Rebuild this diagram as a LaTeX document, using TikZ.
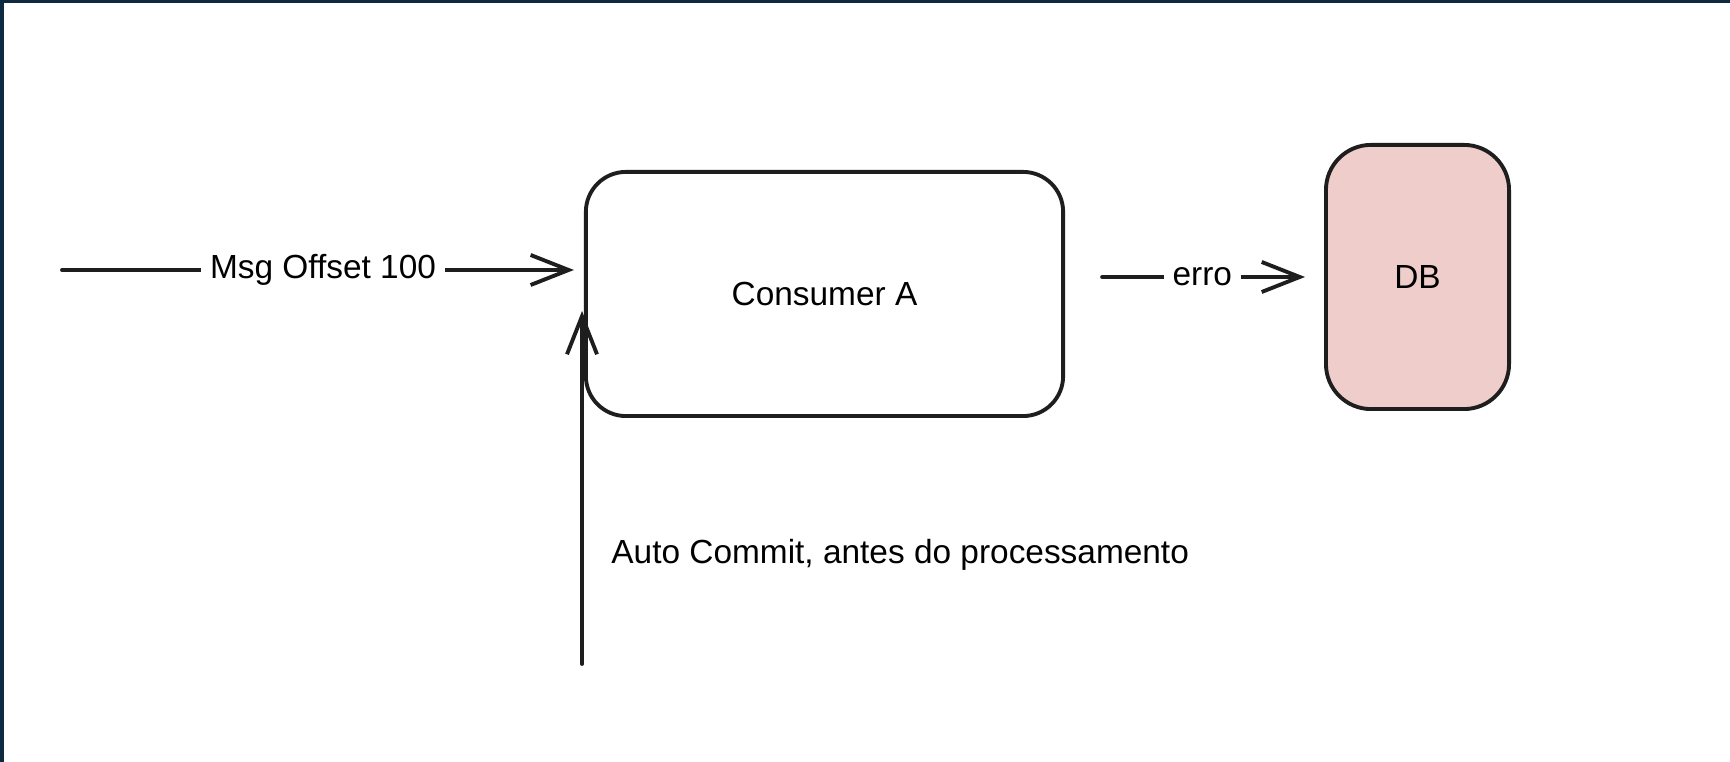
\documentclass[tikz,border=0pt]{standalone}
\usepackage{fontspec}
\setmainfont{Liberation Sans}
\usetikzlibrary{arrows.meta}
\definecolor{inkline}{HTML}{1E1E1E}
\definecolor{framenavy}{HTML}{0E2A40}
\definecolor{dbpink}{HTML}{EFCDCA}
\begin{document}
\begin{tikzpicture}[x=0.01cm, y=-0.01cm,
  font=\fontsize{9.5}{11}\selectfont,
  box/.style={draw=inkline, line width=1.1pt, rounded corners=4mm},
  arr/.style={draw=inkline, line width=1.1pt, line cap=round, -{Straight Barb[length=3.8mm, width=3mm]}},
  tag/.style={fill=white, inner sep=2.5pt}]
\fill[white] (0,0) rectangle (1730,762);
\fill[framenavy] (0,0) rectangle (1730,3);
\fill[framenavy] (0,0) rectangle (4,762);
\useasboundingbox (0,0) rectangle (1730,762);
\node[box, minimum width=4.77cm, minimum height=2.44cm] (consumer) at (824.5,294) {Consumer A};
\node[box, fill=dbpink, rounded corners=4.5mm, minimum width=1.83cm, minimum height=2.64cm] (db) at (1417.5,277) {DB};
\coordinate (msgin) at (62,270);
\coordinate (commitin) at (582,664);
\node[anchor=west] (commitnote) at (599,555) {Auto Commit, antes do processamento};
\draw[arr, shorten >=1mm] (msgin) -- node[tag] {Msg Offset 100} (msgin -| consumer.west);
\draw[arr, shorten <=3.7mm, shorten >=1.9mm] (consumer.east |- db.west) -- node[tag, pos=0.53] {erro} (db.west);
\draw[arr, shorten >=1.7mm] (commitin) -- (commitin |- consumer.west);
\end{tikzpicture}
\end{document}
